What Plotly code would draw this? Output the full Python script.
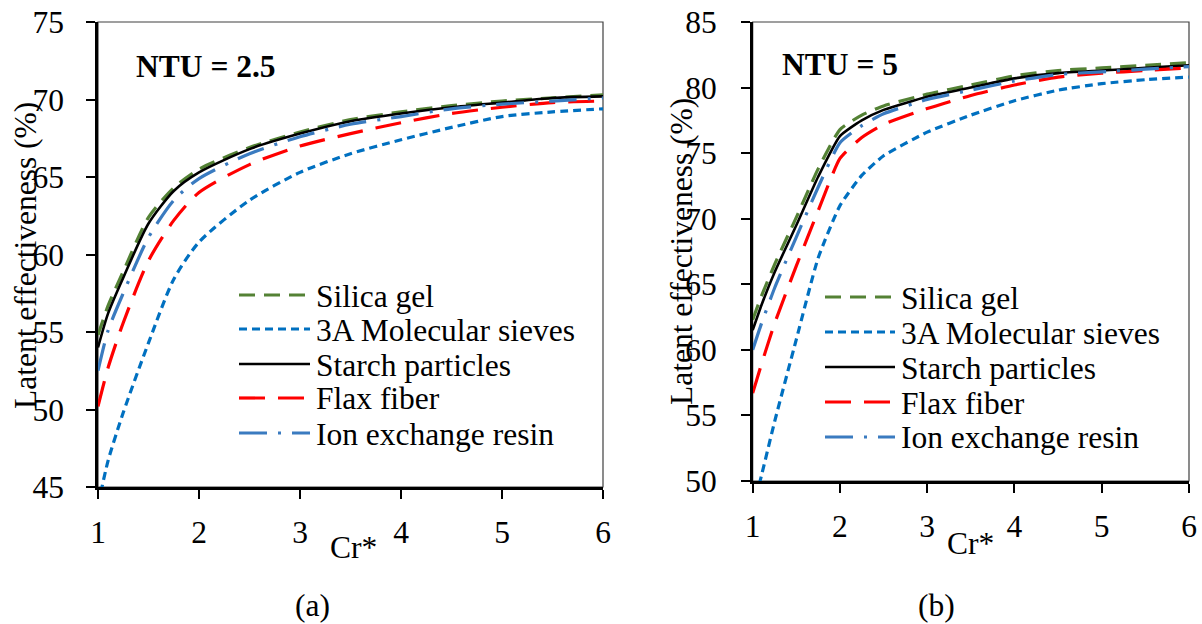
import plotly.graph_objects as go

W, H = 1202, 624
FONT = "Liberation Serif, Times New Roman, serif"
FS = 31.5

# ---------------- data ----------------
cr_a = [1.0, 1.1, 1.25, 1.5, 1.75, 2.0, 2.5, 3.0, 3.5, 4.0, 4.5, 5.0, 5.5, 6.0]
silica_a = [54.8, 56.7, 58.9, 62.4, 64.3, 65.5, 66.9, 67.9, 68.7, 69.2, 69.6, 69.9, 70.1, 70.3]
sieve_a  = [43.8, 46.7, 49.8, 54.3, 58.4, 60.8, 63.5, 65.3, 66.5, 67.4, 68.2, 68.9, 69.2, 69.4]
starch_a = [54.0, 56.2, 58.5, 62.0, 64.1, 65.3, 66.8, 67.8, 68.6, 69.1, 69.5, 69.8, 70.1, 70.2]
flax_a   = [50.2, 52.7, 55.6, 59.6, 62.2, 64.0, 65.8, 67.0, 67.8, 68.5, 69.1, 69.5, 69.8, 69.9]
ion_a    = [52.5, 55.1, 57.5, 61.1, 63.5, 64.9, 66.5, 67.6, 68.4, 68.9, 69.4, 69.7, 69.9, 70.1]

cr_b = [1.0, 1.1, 1.25, 1.5, 1.75, 2.0, 2.25, 2.5, 3.0, 3.5, 4.0, 4.5, 5.0, 5.5, 6.0]
silica_b = [62.3, 64.1, 66.5, 70.1, 73.8, 76.8, 77.9, 78.6, 79.5, 80.2, 80.9, 81.3, 81.5, 81.7, 81.9]
sieve_b  = [47.8, 50.4, 54.5, 60.8, 67.0, 71.0, 73.3, 74.8, 76.6, 77.9, 79.0, 79.8, 80.3, 80.6, 80.8]
starch_b = [61.5, 63.4, 65.9, 69.5, 73.2, 76.3, 77.5, 78.3, 79.3, 80.0, 80.7, 81.1, 81.3, 81.5, 81.7]
flax_b   = [56.7, 58.9, 62.0, 66.4, 70.6, 74.6, 76.2, 77.2, 78.4, 79.4, 80.2, 80.8, 81.1, 81.3, 81.5]
ion_b    = [60.0, 62.0, 64.7, 68.6, 72.4, 75.8, 77.1, 78.0, 79.1, 79.8, 80.5, 81.0, 81.2, 81.4, 81.6]

names = ["Silica gel", "3A Molecular sieves", "Starch particles", "Flax fiber", "Ion exchange resin"]
panel_labels = ["(a)", "(b)"]
ntu_labels = ["NTU = 2.5", "NTU = 5"]
x_title = "Cr*"
y_title = "Latent effectiveness (%)"

styles = [
    dict(color="#548235", width=3.2, dash="16px,9px"),
    dict(color="#0070C0", width=3.2, dash="8px,5px"),
    dict(color="#000000", width=2.6, dash="solid"),
    dict(color="#FF0000", width=3.2, dash="26px,13px"),
    dict(color="#3A7BC0", width=3.2, dash="28px,11px,3px,11px"),
]

def px2x(px):
    return px / W

def px2y(py):
    return 1 - py / H

fig = go.Figure()

series_a = [silica_a, sieve_a, starch_a, flax_a, ion_a]
series_b = [silica_b, sieve_b, starch_b, flax_b, ion_b]

for name, ys, st in zip(names, series_a, styles):
    fig.add_trace(go.Scatter(x=cr_a, y=ys, mode="lines", name=name,
                             line=dict(shape="spline", smoothing=0.7, **st),
                             xaxis="x", yaxis="y", showlegend=False))
for name, ys, st in zip(names, series_b, styles):
    fig.add_trace(go.Scatter(x=cr_b, y=ys, mode="lines", name=name,
                             line=dict(shape="spline", smoothing=0.5, **st),
                             xaxis="x2", yaxis="y2", showlegend=False))

# plot areas (pixels)
pa = dict(l=98, r=603, t=22, b=487)
pb = dict(l=752.7, r=1189, t=22, b=481)

axis_common = dict(showline=True, linecolor="black", linewidth=2.5, ticks="outside", ticklen=9,
                   tickwidth=1.5, tickcolor="black", showgrid=False, zeroline=False, automargin=False,
                   tickfont=dict(family=FONT, size=FS, color="black"))

fig.update_layout(
    template="none",
    width=W, height=H, margin=dict(l=0, r=0, t=0, b=0, pad=0, autoexpand=False),
    paper_bgcolor="white", plot_bgcolor="white",
    xaxis=dict(domain=[px2x(pa["l"]), px2x(pa["r"])], range=[1, 6], dtick=1, anchor="y",
               ticklabelstandoff=6, **axis_common),
    yaxis=dict(domain=[px2y(pa["b"]), px2y(pa["t"])], range=[45, 75], dtick=5, anchor="x",
               ticklabelstandoff=16, **axis_common),
    xaxis2=dict(domain=[px2x(pb["l"]), px2x(pb["r"])], range=[1, 6], dtick=1, anchor="y2",
                ticklabelstandoff=6, **axis_common),
    yaxis2=dict(domain=[px2y(pb["b"]), px2y(pb["t"])], range=[50, 85], dtick=5, anchor="x2",
                ticklabelstandoff=18, **axis_common),
    showlegend=False,
)

shapes = []
annotations = []
# frames (thin, top/right)
for xr, yr in [("x domain", "y domain"), ("x2 domain", "y2 domain")]:
    shapes.append(dict(type="rect", xref=xr, yref=yr, x0=0, x1=1, y0=0, y1=1,
                       line=dict(color="#404040", width=1.2), layer="below"))

# legends (drawn manually)
legend_cfg = [
    dict(x0=239, x1=310, tx=314, rows=[295, 329, 364, 398, 433]),
    dict(x0=825, x1=895, tx=899, rows=[297, 332, 367, 402, 437]),
]
for cfg in legend_cfg:
    for name, st, ry in zip(names, styles, cfg["rows"]):
        shapes.append(dict(type="line", xref="paper", yref="paper",
                           x0=px2x(cfg["x0"]), x1=px2x(cfg["x1"]), y0=px2y(ry), y1=px2y(ry),
                           line=dict(color=st["color"], width=st["width"], dash=st["dash"])))
        annotations.append(dict(text=name, xref="paper", yref="paper", x=px2x(cfg["tx"]), y=px2y(ry + 1),
                                xanchor="left", yanchor="middle", showarrow=False,
                                font=dict(family=FONT, size=FS, color="black")))

# NTU labels
annotations.append(dict(text="<b>" + ntu_labels[0] + "</b>", xref="paper", yref="paper", x=px2x(134), y=px2y(67),
                        xanchor="left", yanchor="middle", showarrow=False, font=dict(family=FONT, size=FS, color="black")))
annotations.append(dict(text="<b>" + ntu_labels[1] + "</b>", xref="paper", yref="paper", x=px2x(780), y=px2y(65),
                        xanchor="left", yanchor="middle", showarrow=False, font=dict(family=FONT, size=FS, color="black")))

# axis titles
for cx, cy in [(353, 547), (971, 543)]:
    annotations.append(dict(text=x_title, xref="paper", yref="paper", x=px2x(cx), y=px2y(cy),
                            xanchor="center", yanchor="middle", showarrow=False,
                            font=dict(family=FONT, size=FS, color="black")))
for cx, cy in [(25, 256), (681, 252)]:
    annotations.append(dict(text=y_title, xref="paper", yref="paper", x=px2x(cx), y=px2y(cy),
                            xanchor="center", yanchor="middle", showarrow=False, textangle=-90,
                            font=dict(family=FONT, size=FS, color="black")))
# panel labels
for lab, cx in zip(panel_labels, [312, 936]):
    annotations.append(dict(text=lab, xref="paper", yref="paper", x=px2x(cx), y=px2y(605),
                            xanchor="center", yanchor="middle", showarrow=False,
                            font=dict(family=FONT, size=FS, color="black")))

fig.update_layout(shapes=shapes, annotations=annotations)
fig.write_html("out.html")
